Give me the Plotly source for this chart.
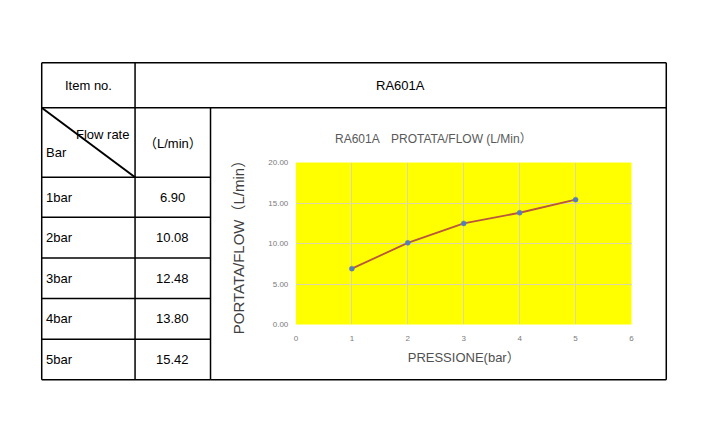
import plotly.graph_objects as go

W, H = 708, 421

# data
item_no = 'RA601A'
pressure_bar = [1, 2, 3, 4, 5]
pressure_labels = ['1bar', '2bar', '3bar', '4bar', '5bar']
flow_lmin = [6.90, 10.08, 12.48, 13.80, 15.42]
y_ticks = [0, 5, 10, 15, 20]
x_ticks = [0, 1, 2, 3, 4, 5, 6]


def px_x(x):
    return x / W


def px_y(y):
    return 1 - y / H


# table grid (pixel positions)
left, c1, c2, right = 40, 134, 210, 669
top, r1, r2 = 60, 106, 177
row_lines = [177, 218, 259.5, 301, 342.5, 384]

narrow = 'Liberation Sans Narrow, Liberation Sans, Noto Sans CJK SC'

fig = go.Figure()

fig.add_trace(go.Scatter(
    x=pressure_bar, y=flow_lmin, mode='lines+markers',
    line=dict(color='#b8573a', width=1.8),
    marker=dict(color='#4f7fc0', size=5, line=dict(color='#6a7fb0', width=0.5)),
    showlegend=False, hoverinfo='x+y'
))

shapes = []
line_style = dict(color='black', width=1.5)


def hline(y, x0, x1):
    shapes.append(dict(type='line', xref='paper', yref='paper',
                       x0=px_x(x0), x1=px_x(x1), y0=px_y(y), y1=px_y(y), line=line_style))


def vline(x, y0, y1):
    shapes.append(dict(type='line', xref='paper', yref='paper',
                       x0=px_x(x), x1=px_x(x), y0=px_y(y0), y1=px_y(y1), line=line_style))


hline(top, left, right)
hline(r1, left, right)
for y in row_lines:
    hline(y, left, c2)
hline(row_lines[-1], c2, right)
vline(left, top, row_lines[-1])
vline(c1, top, row_lines[-1])
vline(c2, r1, row_lines[-1])
vline(right, top, row_lines[-1])
# diagonal in header cell
shapes.append(dict(type='line', xref='paper', yref='paper',
                   x0=px_x(left), y0=px_y(r1), x1=px_x(c1), y1=px_y(r2),
                   line=dict(color='black', width=2)))

annotations = []
cell_font = dict(family='Liberation Sans, Arial', size=13, color='black')


def text(x, y, s, xanchor='center', font=cell_font):
    annotations.append(dict(xref='paper', yref='paper', x=px_x(x), y=px_y(y), text=s,
                            showarrow=False, xanchor=xanchor, yanchor='middle', font=font))


text((left + c1) / 2, (top + r1) / 2, 'Item no.')
text((c1 + right) / 2, (top + r1) / 2, item_no)
text(130, 133, 'Flow rate', xanchor='right')
text(42, 152, 'Bar', xanchor='left')
text((c1 + c2) / 2, 143, '（L/min）', font=dict(family='Liberation Sans, Noto Sans CJK SC', size=13, color='black'))

for i, (lab, val) in enumerate(zip(pressure_labels, flow_lmin)):
    yc = (row_lines[i] + row_lines[i + 1]) / 2
    text(42, yc, lab, xanchor='left')
    text((c1 + c2) / 2, yc, f'{val:.2f}')

# chart title
text(435, 138, 'RA601A\u3000PROTATA/FLOW (L/Min）',
     font=dict(family=narrow, size=12, color='#595959'))

fig.update_layout(
    width=W, height=H,
    margin=dict(l=0, r=0, t=0, b=0),
    paper_bgcolor='white',
    plot_bgcolor='#ffff00',
    shapes=shapes,
    annotations=annotations,
    xaxis=dict(
        domain=[px_x(296), px_x(634)],
        range=[0, 6], tickvals=x_ticks, showgrid=True, gridcolor='#ddd6a8', gridwidth=1,
        zeroline=False, showline=False, ticks='outside', ticklen=6, tickcolor='rgba(0,0,0,0)',
        tickfont=dict(family=narrow, size=8, color='#7a7a7a'),
        title=dict(text='PRESSIONE(bar）', standoff=10,
                   font=dict(family=narrow, size=13, color='#505050')),
    ),
    yaxis=dict(
        domain=[px_y(327.5), px_y(162)],
        range=[0, 20], tickvals=y_ticks, tickformat='.2f', showgrid=True, gridcolor='#ddd6a8',
        gridwidth=1, zeroline=False, showline=False, ticks='outside', ticklen=5,
        tickcolor='rgba(0,0,0,0)',
        tickfont=dict(family=narrow, size=8, color='#7a7a7a'),
        title=dict(text='PORTATA/FLOW（L/min）', standoff=20,
                   font=dict(family='Liberation Sans, Noto Sans CJK SC', size=15, color='#404040')),
    ),
)

# drop the default page margin so the figure sits at the window origin
fig.write_html('out.html', config={'displayModeBar': False},
               post_script="document.body.style.margin='0';")
